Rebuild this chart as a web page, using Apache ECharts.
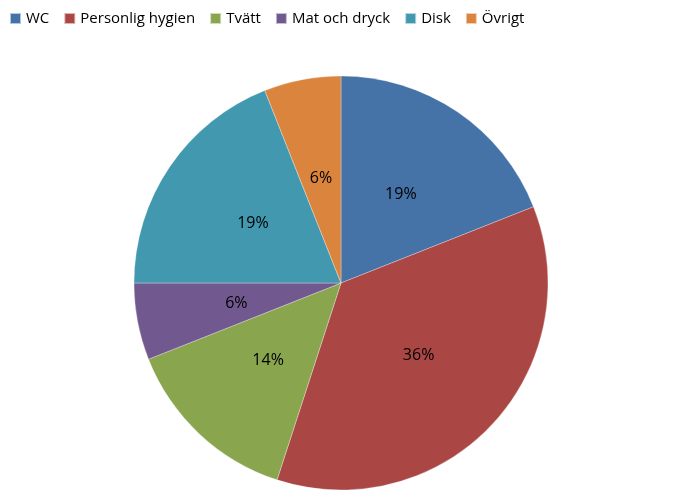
<!DOCTYPE html>
<html>
<head>
<meta charset="utf-8">
<script src="https://cdn.jsdelivr.net/npm/echarts@6/dist/echarts.min.js"></script>
<style>html,body{margin:0;padding:0;background:#fff}#c{width:700px;height:504px}</style>
</head>
<body>
<div id="c"></div>
<script>
var categories = ['WC', 'Personlig hygien', 'Tvätt', 'Mat och dryck', 'Disk', 'Övrigt'];
var values = [19, 36, 14, 6, 19, 6];
var colors = ['#4572A7', '#AA4643', '#89A54E', '#71588F', '#4198AF', '#DB843D'];

var chart = echarts.init(document.getElementById('c'));
chart.setOption({
  animation: false,
  color: colors,
  legend: {
    left: 4, top: 6,
    itemWidth: 11, itemHeight: 11, itemGap: 14,
    icon: 'rect',
    textStyle: { fontFamily: 'Open Sans', fontSize: 15, color: '#000' },
    data: categories
  },
  series: [{
    type: 'pie',
    center: [341, 283],
    radius: [0, 207],
    startAngle: 90,
    clockwise: true,
    label: {
      position: 'inside',
      formatter: '{d}%',
      fontFamily: 'Open Sans', fontSize: 16, color: '#000'
    },
    labelLine: { show: false },
    itemStyle: { borderColor: 'rgba(255,255,255,0.6)', borderWidth: 0.5 },
    data: categories.map(function (n, i) { return { name: n, value: values[i] }; })
  }]
});
</script>
</body>
</html>
